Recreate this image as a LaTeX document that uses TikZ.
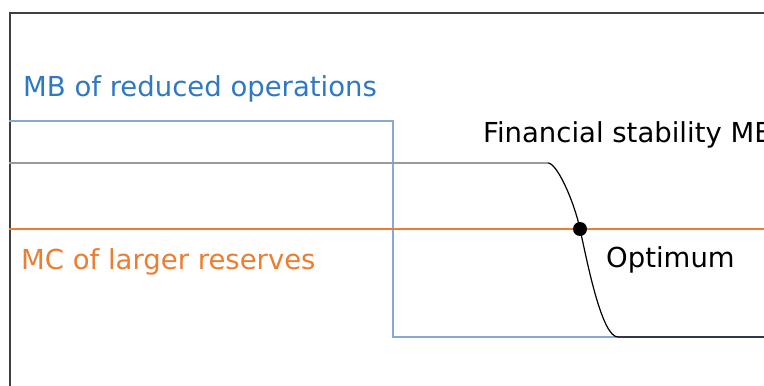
\documentclass[tikz,border=0pt]{standalone}
\usepackage{fontspec}
\setmainfont{DejaVu Sans}
\usepackage{tikz}
\usetikzlibrary{positioning}
\definecolor{mbblue}{HTML}{2E78C4}
\definecolor{mbline}{HTML}{86A8D8}
\definecolor{mcorange}{HTML}{ED7D31}
\definecolor{fsgray}{HTML}{9A9A9A}
\definecolor{framegray}{HTML}{404040}

\begin{document}
\begin{tikzpicture}[x=1pt, y=1pt, font=\fontsize{27.5}{32}\selectfont,
	lbl/.style={inner sep=0pt, anchor=base west}]
\useasboundingbox (0,0) rectangle (764,386);
\clip (0,0) rectangle (764,386);
\coordinate (fs-start) at (548,223);
\coordinate (opt) at (580,157);
\coordinate (fs-end) at (618,49);
% frame
\draw[framegray, line width=2.4pt] (10,-5) -- (10,373) -- (770,373);
% curves
\draw[mbline, line width=2.4pt] (9,265) -- (393,265) -- (393,49) -- (770,49);
\draw[mcorange, line width=1.8pt] (9,157) -- (770,157);
\draw[fsgray, line width=2.8pt] (9,223) -- (fs-start);
\draw[black, line width=1.2pt] (fs-start) .. controls (557,223) and (574,185) .. (opt)
	.. controls (588,120) and (602,49) .. (fs-end) -- (770,49);
\fill (opt) circle (7pt);
% labels
\node[lbl, text=mbblue] (mb) at (23,289) {MB of reduced operations};
\node[lbl] (fs) at (483,243) {Financial stability MB};
\node[lbl] (optimum) at (606,118) {Optimum};
\node[lbl, text=mcorange] (mc) at (21,116) {MC of larger reserves};
\end{tikzpicture}
\end{document}
